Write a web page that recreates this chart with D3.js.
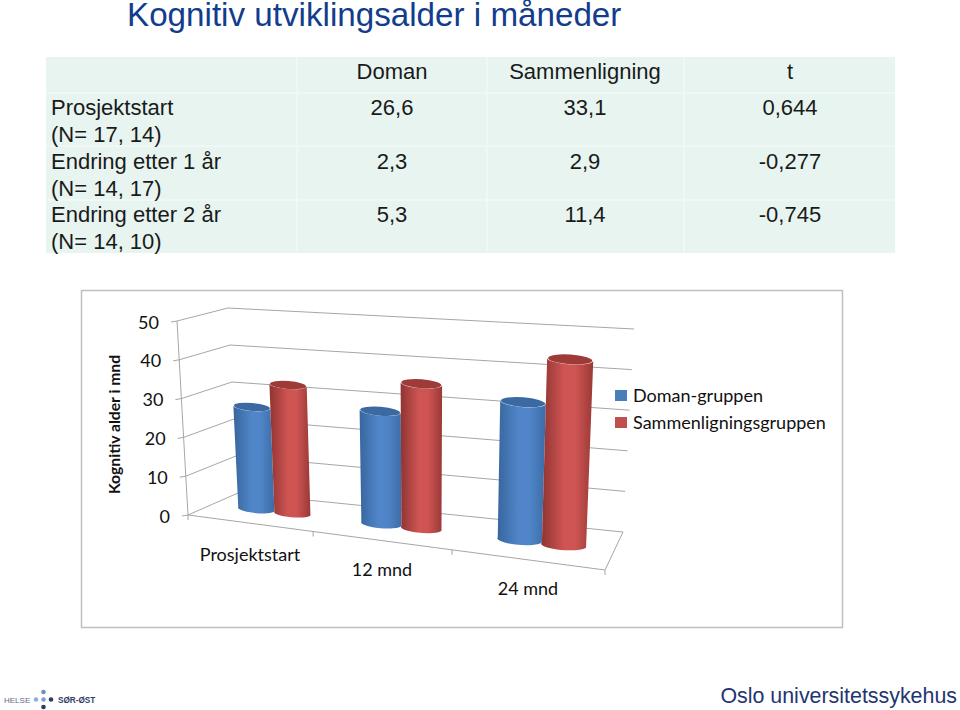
<!DOCTYPE html>
<html>
<head>
<meta charset="utf-8">
<script src="https://cdnjs.cloudflare.com/ajax/libs/d3/7.8.5/d3.min.js"></script>
<style>
  html, body { margin: 0; padding: 0; background: #fff; }
  svg { display: block; }
  .tbl { font-family: "Liberation Sans", Arial, sans-serif; font-size: 22px; fill: #1a1a1a; }
  .chart-text { font-family: Lato, sans-serif; font-size: 18px; fill: #111; }
</style>
</head>
<body>
<svg id="svg"></svg>
<script>
// table
const tableHead = ['Doman', 'Sammenligning', 't'];
const rowNames = ['Prosjektstart', 'Endring etter 1 år', 'Endring etter 2 år'];
const rowN = ['(N= 17, 14)', '(N= 14, 17)', '(N= 14, 10)'];
const domanCol = ['26,6', '2,3', '5,3'];
const sammenCol = ['33,1', '2,9', '11,4'];
const tCol = ['0,644', '-0,277', '-0,745'];

// chart
const categories = ['Prosjektstart', '12 mnd', '24 mnd'];
const seriesNames = ['Doman-gruppen', 'Sammenligningsgruppen'];
const domanValues = [26.6, 28.3, 33.4];
const sammenValues = [33.1, 36.0, 44.5];
const yTicks = [0, 10, 20, 30, 40, 50];

const width = 960;
const height = 710;

const svg = d3.select('#svg')
  .attr('width', width)
  .attr('height', height);

const defs = svg.append('defs');

// Title
svg.append('text')
  .attr('x', 127)
  .attr('y', 26)
  .attr('font-family', '"Liberation Sans", Arial, sans-serif')
  .attr('font-size', 33.2)
  .attr('fill', '#123d8c')
  .text('Kognitiv utviklingsalder i måneder');

// Table background and the white cell lines
const colEdges = [46, 297, 487, 684, 895];
const rowEdges = [57, 93, 146, 200, 253];
const colCenter = [392, 585, 790];
const rowBase = [115, 169, 222];

svg.append('rect')
  .attr('x', colEdges[0])
  .attr('y', rowEdges[0])
  .attr('width', colEdges[4] - colEdges[0])
  .attr('height', rowEdges[4] - rowEdges[0])
  .attr('fill', '#e7f4ef');

svg.selectAll('.col-line')
  .data(colEdges.slice(1, 4))
  .enter().append('line')
  .attr('x1', d => d).attr('x2', d => d)
  .attr('y1', rowEdges[0]).attr('y2', rowEdges[4])
  .attr('stroke', '#eff8f4').attr('stroke-width', 2);

svg.selectAll('.row-line')
  .data(rowEdges.slice(1, 4))
  .enter().append('line')
  .attr('x1', colEdges[0]).attr('x2', colEdges[4])
  .attr('y1', d => d).attr('y2', d => d)
  .attr('stroke', '#eff8f4').attr('stroke-width', 2);

svg.selectAll('.head')
  .data(tableHead)
  .enter().append('text')
  .attr('class', 'tbl')
  .attr('x', (d, i) => colCenter[i])
  .attr('y', 79)
  .attr('text-anchor', 'middle')
  .text(d => d);

rowNames.forEach((name, i) => {
  svg.append('text').attr('class', 'tbl').attr('x', 51).attr('y', rowBase[i]).text(name);
  svg.append('text').attr('class', 'tbl').attr('x', 51).attr('y', rowBase[i] + 26.5).text(rowN[i]);
  [domanCol, sammenCol, tCol].forEach((col, j) => {
    svg.append('text')
      .attr('class', 'tbl')
      .attr('x', colCenter[j])
      .attr('y', rowBase[i])
      .attr('text-anchor', 'middle')
      .text(col[i]);
  });
});

// Chart frame
svg.append('rect')
  .attr('x', 81.5)
  .attr('y', 290.5)
  .attr('width', 761)
  .attr('height', 337)
  .attr('fill', '#fff')
  .attr('stroke', '#bfbfbf')
  .attr('stroke-width', 1.5);

// The 3D box: corners in the picture, value 0 and value 50, front and back
const frontLow = { l: [188, 515], r: [605, 570] };
const frontHigh = { l: [177, 321], r: [613, 350] };
const backLow = { l: [238, 493], r: [623, 532] };
const backHigh = { l: [228, 308], r: [634, 329] };

// category position -> share of the box width (front ticks are not evenly spaced)
const xShare = d3.scaleLinear().domain([0, 1, 2, 3]).range([0, 0.30, 0.633, 1]);
const yShare = d3.scaleLinear().domain([0, 50]).range([0, 1]);

const mix = (a, b, t) => [a[0] + (b[0] - a[0]) * t, a[1] + (b[1] - a[1]) * t];

// cat: position along categories, depth: 0 front to 1 back, val: value axis
function project(cat, depth, val) {
  const u = xShare(cat);
  const low = mix(mix(frontLow.l, frontLow.r, u), mix(backLow.l, backLow.r, u), depth);
  const high = mix(mix(frontHigh.l, frontHigh.r, u), mix(backHigh.l, backHigh.r, u), depth);
  return mix(low, high, yShare(val));
}

const gridColor = '#a6a6a6';
const line3d = (a, b) => svg.append('line')
  .attr('x1', a[0]).attr('y1', a[1])
  .attr('x2', b[0]).attr('y2', b[1])
  .attr('stroke', gridColor)
  .attr('stroke-width', 1);

// Gridlines on back wall and side wall, axis ticks and labels
yTicks.forEach(v => {
  line3d(project(0, 0, v), project(0, 1, v));
  line3d(project(0, 1, v), project(3, 1, v));
  const p = project(0, 0, v);
  line3d([p[0] - 6, p[1] + 1], p);
  svg.append('text')
    .attr('class', 'chart-text')
    .attr('x', p[0] - 18)
    .attr('y', p[1] + 7.5)
    .attr('text-anchor', 'end')
    .text(v);
});

// Left axis edge, floor front and right edges
line3d(project(0, 0, 0), project(0, 0, 50));
line3d(project(0, 0, 0), project(3, 0, 0));
line3d(project(3, 0, 0), project(3, 1, 0));

// Floor ticks
d3.range(0, 4).forEach(i => {
  const p = project(i, 0, 0);
  line3d(p, [p[0], p[1] + 5]);
});

// Gradients for cylinders
const palette = [
  { edgeL: '#38669e', mid: '#5086c9', edgeR: '#3c6ca6', top: '#3b6aa3' },
  { edgeL: '#8f3432', mid: '#cf5553', edgeR: '#9a3936', top: '#9e3a38' }
];
palette.forEach((c, i) => {
  const g = defs.append('linearGradient').attr('id', 'cyl' + i);
  g.append('stop').attr('offset', '0%').attr('stop-color', c.edgeL);
  g.append('stop').attr('offset', '45%').attr('stop-color', c.mid);
  g.append('stop').attr('offset', '65%').attr('stop-color', c.mid);
  g.append('stop').attr('offset', '100%').attr('stop-color', c.edgeR);
});

const groupOffset = 0.15;
const groupCenter = 0.51;
const barDepth = 0.5;
const flat = 0.22;

function drawCylinder(cat, s, val) {
  const center = cat + groupCenter + (s === 0 ? -groupOffset : groupOffset);
  const l0 = project(center - groupOffset, barDepth, 0);
  const r0 = project(center + groupOffset, barDepth, 0);
  const l1 = project(center - groupOffset, barDepth, val);
  const r1 = project(center + groupOffset, barDepth, val);
  const rx = (r0[0] - l0[0]) / 2;
  const ry = rx * flat;
  const angle = Math.atan2(r1[1] - l1[1], r1[0] - l1[0]) * 180 / Math.PI;

  svg.append('path')
    .attr('d', `M${l1[0]},${l1[1]} L${l0[0]},${l0[1]} A${rx},${ry} ${angle} 0 0 ${r0[0]},${r0[1]} L${r1[0]},${r1[1]} A${rx},${ry} ${angle} 0 1 ${l1[0]},${l1[1]} Z`)
    .attr('fill', `url(#cyl${s})`);

  svg.append('ellipse')
    .attr('cx', (l1[0] + r1[0]) / 2)
    .attr('cy', (l1[1] + r1[1]) / 2)
    .attr('rx', rx)
    .attr('ry', ry)
    .attr('transform', `rotate(${angle} ${(l1[0] + r1[0]) / 2} ${(l1[1] + r1[1]) / 2})`)
    .attr('fill', palette[s].top);
}

categories.forEach((c, i) => {
  drawCylinder(i, 0, domanValues[i]);
  drawCylinder(i, 1, sammenValues[i]);
});

// Category labels
const labelX = [250, 382, 528];
const labelY = [561, 576, 595];
svg.selectAll('.cat')
  .data(categories)
  .enter().append('text')
  .attr('class', 'chart-text')
  .attr('x', (d, i) => labelX[i])
  .attr('y', (d, i) => labelY[i])
  .attr('text-anchor', 'middle')
  .text(d => d);

// Axis title
svg.append('text')
  .attr('transform', 'translate(119.5,424.5) rotate(-90)')
  .attr('text-anchor', 'middle')
  .attr('font-family', 'Lato, sans-serif')
  .attr('font-weight', 700)
  .attr('font-size', 15.7)
  .attr('fill', '#111')
  .text('Kognitiv alder i mnd');

// Legend
const legendColors = ['#4a7ebb', '#c0504d'];
seriesNames.forEach((name, i) => {
  svg.append('rect')
    .attr('x', 615)
    .attr('y', 390 + i * 27)
    .attr('width', 12)
    .attr('height', 11)
    .attr('fill', legendColors[i]);
  svg.append('text')
    .attr('class', 'chart-text')
    .attr('x', 633)
    .attr('y', 401.5 + i * 27)
    .text(name);
});

// Footer
const footer = svg.append('g');
footer.append('text')
  .attr('x', 4).attr('y', 703)
  .attr('font-family', '"Liberation Sans", Arial, sans-serif')
  .attr('font-size', 8)
  .attr('fill', '#5c6b85')
  .text('HELSE');
footer.append('text')
  .attr('x', 58).attr('y', 703)
  .attr('font-family', '"Liberation Sans", Arial, sans-serif')
  .attr('font-size', 8.2)
  .attr('font-weight', 700)
  .attr('fill', '#2c3e66')
  .text('SØR-ØST');

const logoDots = [
  { cx: 43.5, cy: 692, r: 2.3, fill: '#6f8fbd' },
  { cx: 36, cy: 699.5, r: 2.3, fill: '#8fb0d8' },
  { cx: 43.5, cy: 699.5, r: 2.3, fill: '#7d9fc8' },
  { cx: 51, cy: 699.5, r: 2.3, fill: '#2c3e66' },
  { cx: 43.5, cy: 707, r: 2.3, fill: '#2c3e66' }
];
footer.selectAll('circle')
  .data(logoDots)
  .enter().append('circle')
  .attr('cx', d => d.cx)
  .attr('cy', d => d.cy)
  .attr('r', d => d.r)
  .attr('fill', d => d.fill);

footer.append('text')
  .attr('x', 957).attr('y', 703)
  .attr('text-anchor', 'end')
  .attr('font-family', '"Liberation Sans", Arial, sans-serif')
  .attr('font-size', 21.4)
  .attr('fill', '#1f3572')
  .text('Oslo universitetssykehus');
</script>
</body>
</html>
